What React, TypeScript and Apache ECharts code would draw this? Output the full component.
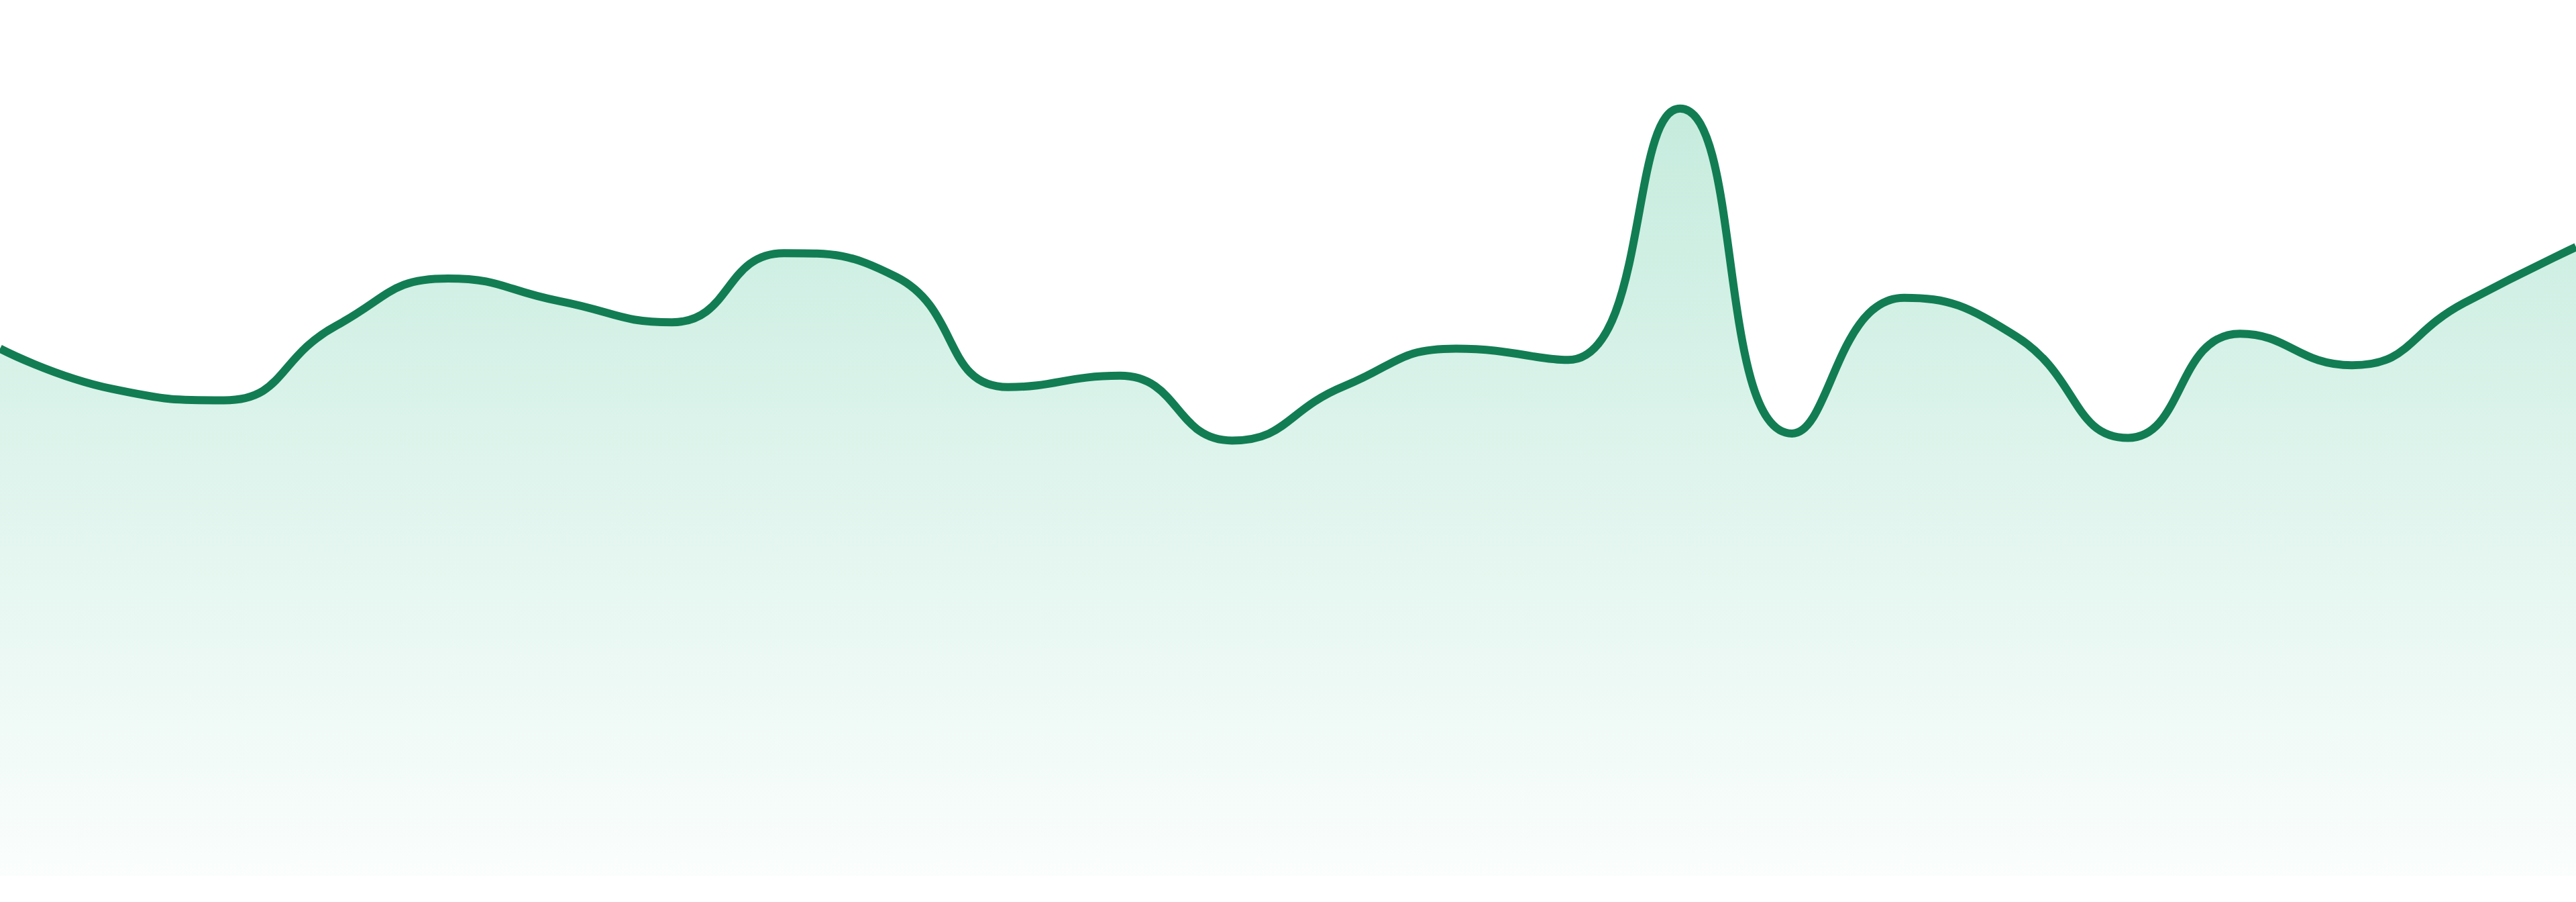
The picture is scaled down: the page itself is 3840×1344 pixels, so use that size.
import React, { useEffect, useRef } from "react";
import * as echarts from "echarts";

const categories: string[] = [
  "00:00", "01:00", "02:00", "03:00", "04:00", "05:00", "06:00", "07:00",
  "08:00", "09:00", "10:00", "11:00", "12:00", "13:00", "14:00", "15:00",
  "16:00", "17:00", "18:00", "19:00", "20:00", "21:00", "22:00", "23:00",
];

const values: number[] = [
  60.2, 55.6, 54.3, 62.8, 68.2, 65.6, 63.2, 71.1,
  68.4, 55.8, 57.1, 49.7, 55.9, 60.2, 58.9, 87.6,
  50.5, 66.0, 61.6, 50.0, 61.9, 58.3, 65.4, 71.8,
];

const yMin = 0;
const yMax = 100;

const lineColor = "#127d53";
const areaTop = "rgba(40, 183, 130, 0.38)";
const areaBottom = "rgba(40, 183, 130, 0.03)";

export default function App() {
  const ref = useRef<HTMLDivElement | null>(null);

  useEffect(() => {
    document.body.style.margin = "0";
    if (!ref.current) return;
    const chart = echarts.init(ref.current, undefined, { renderer: "svg" });
    chart.setOption({
      animation: false,
      backgroundColor: "#ffffff",
      grid: { left: 0, right: 0, top: 0, bottom: 39 },
      xAxis: {
        type: "category",
        data: categories,
        boundaryGap: false,
        show: false,
      },
      yAxis: {
        type: "value",
        min: yMin,
        max: yMax,
        show: false,
      },
      series: [
        {
          type: "line",
          data: values,
          smooth: true,
          symbol: "none",
          lineStyle: { color: lineColor, width: 12 },
          areaStyle: {
            color: new echarts.graphic.LinearGradient(0, 0, 0, 1, [
              { offset: 0, color: areaTop },
              { offset: 1, color: areaBottom },
            ]),
          },
        },
      ],
    });
    const onResize = () => chart.resize();
    window.addEventListener("resize", onResize);
    return () => {
      window.removeEventListener("resize", onResize);
      chart.dispose();
    };
  }, []);

  return <div ref={ref} style={{ width: "100vw", height: "100vh" }} />;
}
